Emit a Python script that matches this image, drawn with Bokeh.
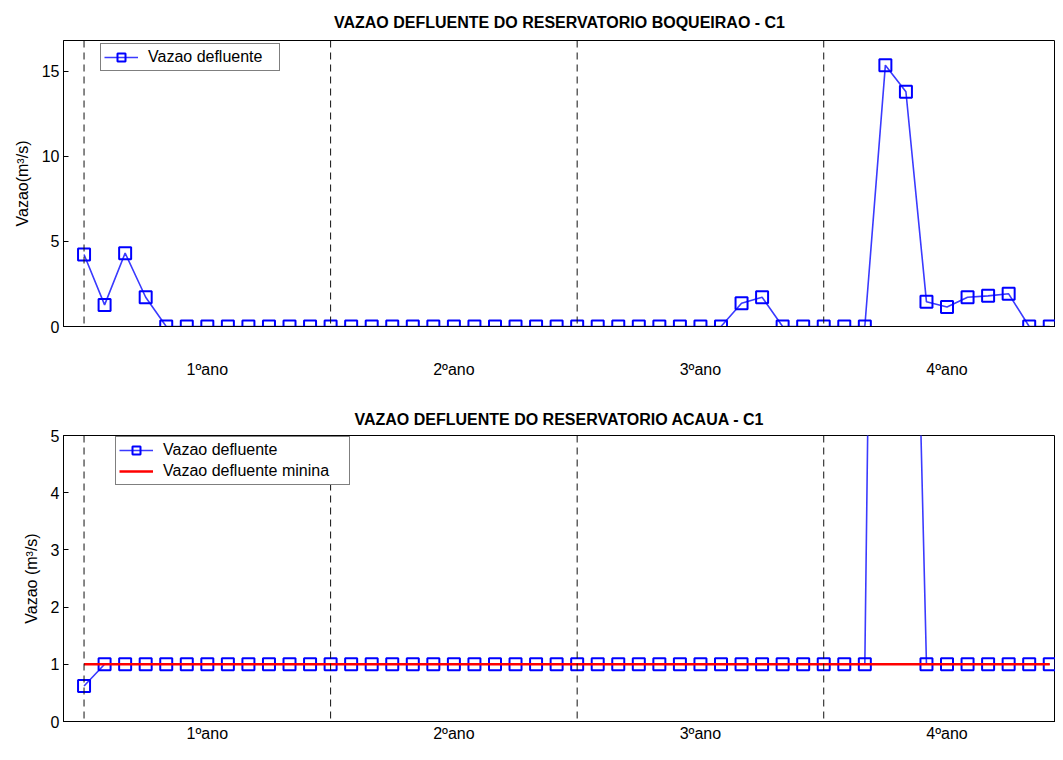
from bokeh.plotting import figure
from bokeh.models import Range1d, FixedTicker, Span, Legend, LegendItem, ColumnDataSource
from bokeh.layouts import column
from bokeh.embed import file_html
from bokeh.resources import INLINE

FONT = "Liberation Sans"

# ---------------- data ----------------
months = [1, 2, 3, 4, 5, 6, 7, 8, 9, 10, 11, 12,
          13, 14, 15, 16, 17, 18, 19, 20, 21, 22, 23, 24,
          25, 26, 27, 28, 29, 30, 31, 32, 33, 34, 35, 36,
          37, 38, 39, 40, 41, 42, 43, 44, 45, 46, 47, 48]

boqueirao = [4.23, 1.27, 4.31, 1.72, 0, 0, 0, 0, 0, 0, 0, 0,
             0, 0, 0, 0, 0, 0, 0, 0, 0, 0, 0, 0,
             0, 0, 0, 0, 0, 0, 0, 0, 1.37, 1.72, 0, 0,
             0, 0, 0, 15.35, 13.79, 1.45, 1.14, 1.72, 1.80, 1.92, 0, 0]

acaua = [0.62, 1, 1, 1, 1, 1, 1, 1, 1, 1, 1, 1,
         1, 1, 1, 1, 1, 1, 1, 1, 1, 1, 1, 1,
         1, 1, 1, 1, 1, 1, 1, 1, 1, 1, 1, 1,
         1, 1, 1, 30, 16, 1, 1, 1, 1, 1, 1, 1]

acaua_min = [1, 1, 1, 1, 1, 1, 1, 1, 1, 1, 1, 1,
             1, 1, 1, 1, 1, 1, 1, 1, 1, 1, 1, 1,
             1, 1, 1, 1, 1, 1, 1, 1, 1, 1, 1, 1,
             1, 1, 1, 1, 1, 1, 1, 1, 1, 1, 1, 1]

year_starts = [1, 13, 25, 37]
year_centers = [7, 19, 31, 43]
year_labels = ["1ºano", "2ºano", "3ºano", "4ºano"]

BLUE = "#0000ff"
LINE_BLUE = "#3a3aff"
RED = "#ff0000"


def make_panel(title, ylabel, ys, yend, yticks, height, border_top, border_bottom,
               title_standoff, xlabel_standoff, legend_xy, label_width, min_series=None):
    p = figure(width=1055, height=height, output_backend="svg", toolbar_location=None,
               x_range=Range1d(0, 48.28), y_range=Range1d(0, yend),
               min_border_left=63, min_border_right=0,
               min_border_top=border_top, min_border_bottom=border_bottom)
    p.title.text = title
    p.title.text_font = FONT
    p.title.text_font_size = "16px"
    p.title.text_font_style = "bold"
    p.title.text_color = "black"
    p.title.align = "center"
    p.title.standoff = title_standoff

    p.grid.visible = False
    p.outline_line_color = "black"
    p.outline_line_width = 1
    p.background_fill_color = "white"
    p.border_fill_color = "white"

    xa = p.xaxis[0]
    xa.ticker = FixedTicker(ticks=year_centers)
    xa.major_label_overrides = {c: l for c, l in zip(year_centers, year_labels)}
    xa.major_tick_in = 0
    xa.major_tick_out = 0
    xa.minor_tick_in = 0
    xa.minor_tick_out = 0
    xa.major_label_standoff = xlabel_standoff
    xa.major_label_text_font = FONT
    xa.major_label_text_font_size = "16px"
    xa.major_label_text_color = "black"
    xa.axis_line_color = "black"

    ya = p.yaxis[0]
    ya.ticker = FixedTicker(ticks=yticks)
    ya.major_tick_in = 5
    ya.major_tick_out = 0
    ya.minor_tick_in = 0
    ya.minor_tick_out = 0
    ya.major_label_standoff = 4
    ya.major_label_text_font = FONT
    ya.major_label_text_font_size = "16px"
    ya.major_label_text_color = "black"
    ya.axis_label = ylabel
    ya.axis_label_text_font = FONT
    ya.axis_label_text_font_size = "16px"
    ya.axis_label_text_font_style = "normal"
    ya.axis_label_text_color = "black"
    ya.axis_label_standoff = 8
    ya.axis_line_color = "black"

    for xs in year_starts:
        p.add_layout(Span(location=xs, dimension="height", line_color="#111111",
                          line_width=1, line_dash="7 5"))

    src = ColumnDataSource(dict(x=months, y=ys))
    ln = p.line("x", "y", source=src, line_color=LINE_BLUE, line_width=1.6)
    sc = p.scatter("x", "y", source=src, marker="square", size=12,
                   line_color=BLUE, line_width=2, fill_color=None)
    items = [LegendItem(label="Vazao defluente", renderers=[ln, sc])]
    if min_series is not None:
        rl = p.line(months, min_series, line_color=RED, line_width=2.5)
        items.append(LegendItem(label="Vazao defluente minina", renderers=[rl]))

    leg = Legend(items=items, location=legend_xy, orientation="vertical",
                 label_text_font=FONT, label_text_font_size="16px",
                 label_text_color="black", label_height=20, glyph_height=20,
                 glyph_width=34, label_standoff=10, label_width=label_width,
                 padding=3, spacing=1, margin=0,
                 border_line_color="black", border_line_width=1,
                 background_fill_color="white", background_fill_alpha=1.0)
    p.add_layout(leg, "center")
    return p


p1 = make_panel("VAZAO DEFLUENTE DO RESERVATORIO BOQUEIRAO - C1", "Vazao(m³/s)",
                boqueirao, 16.8, [0, 5, 10, 15], height=388, border_top=40,
                border_bottom=62, title_standoff=19, xlabel_standoff=34,
                legend_xy=(37, 255), label_width=128)
p2 = make_panel("VAZAO DEFLUENTE DO RESERVATORIO ACAUA - C1", "Vazao (m³/s)",
                acaua, 5, [0, 1, 2, 3, 4, 5], height=356, border_top=47,
                border_bottom=21, title_standoff=16, xlabel_standoff=3,
                legend_xy=(52, 236), label_width=183, min_series=acaua_min)

layout = column(p1, p2, spacing=0)
open("out.html", "w").write(file_html(layout, INLINE))
